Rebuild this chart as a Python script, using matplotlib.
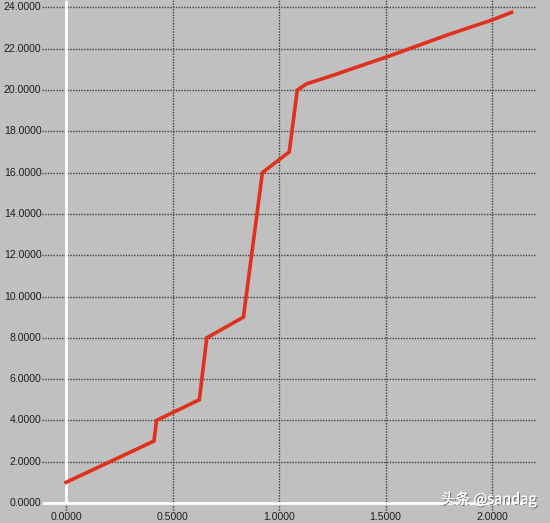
import matplotlib
matplotlib.use("Agg")
import matplotlib.pyplot as plt
import matplotlib.patheffects as pe

# data
x_vals = [0.0, 0.413, 0.425, 0.626, 0.661, 0.833, 0.922, 1.048, 1.086,
          1.13, 1.25, 1.38, 1.5, 1.8, 2.0, 2.092]
y_vals = [1.0, 3.0, 4.0, 5.0, 8.0, 9.0, 16.0, 17.0, 20.0,
          20.3, 20.7, 21.16, 21.58, 22.7, 23.39, 23.76]
y_ticks = [0, 2, 4, 6, 8, 10, 12, 14, 16, 18, 20, 22, 24]
x_ticks = [0.0, 0.5, 1.0, 1.5, 2.0]
y_labels = ["%.4f" % v for v in y_ticks]
x_labels = ["%.4f" % v for v in x_ticks]

BG = "#c0c0c0"
fig = plt.figure(figsize=(5.5, 5.23), dpi=100, facecolor=BG)
ax = fig.add_axes([0, 0, 1, 1])
ax.set_facecolor(BG)

# pixel mapping: x0 at px 66, 213 px per unit; y0 at px 503, 20.65 px per unit
XMIN, XMAX = -66 / 213.0, (550 - 66) / 213.0
YMIN, YMAX = (503 - 523) / 20.65, 503 / 20.65
ax.set_xlim(XMIN, XMAX)
ax.set_ylim(YMIN, YMAX)
ax.axis("off")

GX0, GX1 = (42 - 66) / 213.0, (535 - 66) / 213.0
GY0 = (503 - 510) / 20.65

grid_kw = dict(colors="#404040", linewidth=1.0, linestyles=(0, (1, 1)), zorder=1)
ax.hlines(y_ticks, GX0, GX1, **grid_kw)
ax.vlines(x_ticks, GY0, YMAX, **grid_kw)

# white axis lines
ax.vlines([0], 0, YMAX, colors="white", linewidth=2, zorder=2)
ax.hlines([0], GX0, GX1, colors="white", linewidth=2, zorder=2)

ax.plot(x_vals, y_vals, color="#e0301e", linewidth=2.6, zorder=3,
        solid_joinstyle="miter")

font = dict(family=["Liberation Sans", "DejaVu Sans"], size=7.6, color="#1e1e1e")
for v, lab in zip(y_ticks, y_labels):
    ax.text(GX0 - 0.003, v, lab, ha="right", va="center", **font)
for v, lab in zip(x_ticks, x_labels):
    ax.text(v, (503 - 516.5) / 20.65, lab, ha="center", va="center", **font)

ax.text(XMAX - 13 / 213.0, (503 - 499) / 20.65, "头条 @sandag",
        ha="right", va="center", color="white", fontsize=10.5,
        family=["Noto Sans CJK SC", "DejaVu Sans"], zorder=5,
        path_effects=[pe.withSimplePatchShadow(offset=(0.8, -0.8), shadow_rgbFace="#555555", alpha=0.8), pe.Normal()])

fig.savefig("out.png", dpi=100, facecolor=BG)
